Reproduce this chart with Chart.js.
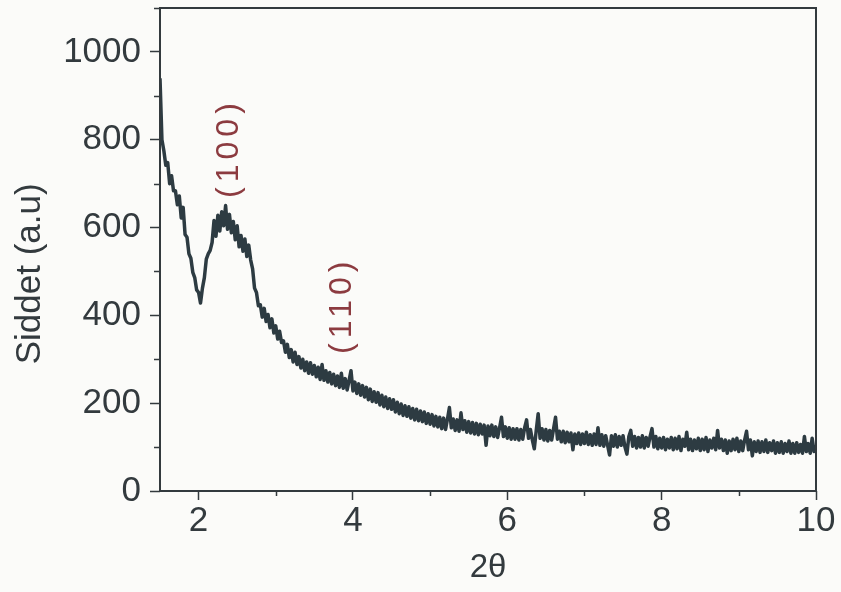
<!DOCTYPE html>
<html>
<head>
<meta charset="utf-8">
<script src="https://cdn.jsdelivr.net/npm/chart.js@4.4.1/dist/chart.umd.min.js"></script>
<style>
    html, body { margin: 0; padding: 0; background: #fbfbf9; }
    #wrap { width: 841px; height: 592px; position: relative; }
</style>
</head>
<body>
<div id="wrap"><canvas id="xrd"></canvas></div>
<script>
// Low-angle XRD scan: 2θ grid (degrees) and measured intensity
const SCAN_START = 1.5;
const SCAN_STEP = 0.025;
const intensity = [
    940, 800, 775, 742, 748, 700, 718, 684,
    684, 652, 672, 622, 646, 584, 578, 540,
    530, 498, 486, 458, 452, 428, 462, 486,
    528, 540, 548, 566, 616, 580, 628, 592,
    636, 604, 650, 596, 630, 588, 614, 572,
    604, 556, 582, 546, 574, 534, 560, 526,
    506, 462, 452, 422, 424, 396, 416, 386,
    402, 372, 392, 360, 376, 346, 364, 338,
    342, 316, 334, 304, 322, 294, 316, 288,
    306, 280, 300, 274, 294, 268, 292, 266,
    286, 260, 282, 254, 288, 252, 274, 248,
    270, 244, 266, 240, 262, 236, 268, 234,
    256, 230, 252, 274, 228, 248, 222, 244,
    218, 240, 214, 236, 208, 232, 204, 226,
    202, 224, 196, 218, 192, 214, 188, 210,
    186, 208, 180, 202, 176, 198, 172, 194,
    170, 192, 166, 188, 162, 186, 160, 182,
    158, 180, 154, 176, 152, 174, 148, 170,
    146, 168, 142, 166, 140, 164, 190, 144,
    164, 138, 162, 136, 178, 140, 160, 134,
    158, 132, 156, 130, 154, 128, 152, 130,
    150, 104, 148, 126, 150, 124, 146, 122,
    144, 168, 124, 146, 120, 144, 118, 142,
    118, 142, 116, 140, 118, 144, 162, 120,
    140, 116, 96, 138, 176, 120, 142, 116,
    140, 114, 138, 116, 142, 168, 118, 136,
    112, 136, 110, 134, 112, 132, 94, 130,
    108, 132, 106, 130, 108, 134, 106, 128,
    104, 130, 106, 144, 104, 128, 102, 126,
    104, 82, 126, 102, 128, 100, 124, 104,
    126, 100, 84, 124, 138, 102, 124, 98,
    122, 100, 126, 98, 122, 102, 124, 142,
    100, 124, 96, 120, 98, 122, 94, 118,
    98, 122, 94, 120, 96, 124, 92, 118,
    102, 134, 94, 118, 92, 116, 96, 120,
    92, 118, 94, 122, 90, 116, 98, 120,
    94, 138, 98, 118, 92, 116, 86, 114,
    92, 118, 94, 120, 90, 114, 92, 116,
    136, 94, 116, 80, 112, 90, 114, 88,
    112, 90, 116, 88, 110, 92, 114, 86,
    110, 88, 112, 86, 108, 90, 114, 86,
    108, 86, 110, 88, 106, 86, 124, 90,
    108, 86, 120, 90, 104
];

// Axis ticks
const X_MAJOR = [2, 4, 6, 8, 10];
const X_MINOR = [3, 5, 7, 9];
const Y_MAJOR = [0, 200, 400, 600, 800, 1000];
const Y_MINOR = [100, 300, 500, 700, 900, 1100];

// Reflection labels, anchored in data coordinates
const PEAK_LABELS = ['(100)', '(110)'];
const PEAK_X = [2.39, 3.86];
const PEAK_Y = [781, 423];

const INK = '#333a3e';
const TRACE = '#2d3b42';
const LABEL_RED = '#8c3b40';
const FONT = "'Liberation Sans', Arial, sans-serif";

const points = intensity.map((v, i) => ({ x: SCAN_START + i * SCAN_STEP, y: v }));

// Frame box, short minor ticks and rotated hkl labels
const decorations = {
    id: 'decorations',
    afterDraw(chart) {
        const { ctx, chartArea: a, scales: { x, y } } = chart;
        ctx.save();
        ctx.strokeStyle = INK;
        ctx.lineWidth = 2;
        ctx.strokeRect(a.left, a.top, a.right - a.left, a.bottom - a.top);

        ctx.lineWidth = 1.5;
        ctx.beginPath();
        X_MINOR.forEach(v => {
            const px = Math.round(x.getPixelForValue(v)) + 0.5;
            ctx.moveTo(px, a.bottom);
            ctx.lineTo(px, a.bottom + 5);
        });
        Y_MINOR.forEach(v => {
            const py = Math.round(y.getPixelForValue(v)) + 0.5;
            ctx.moveTo(a.left, py);
            ctx.lineTo(a.left - 6, py);
        });
        ctx.stroke();

        ctx.fillStyle = LABEL_RED;
        ctx.font = '32px ' + FONT;
        ctx.letterSpacing = '5px';
        ctx.textAlign = 'center';
        ctx.textBaseline = 'middle';
        PEAK_LABELS.forEach((t, i) => {
            ctx.save();
            ctx.translate(x.getPixelForValue(PEAK_X[i]), y.getPixelForValue(PEAK_Y[i]));
            ctx.rotate(-Math.PI / 2);
            ctx.fillText(t, 0, 0);
            ctx.restore();
        });
        ctx.restore();
    }
};

new Chart(document.getElementById('xrd'), {
    type: 'line',
    data: {
        datasets: [{
            data: points,
            borderColor: TRACE,
            borderWidth: 3.5,
            borderJoinStyle: 'round',
            pointRadius: 0,
            tension: 0,
            fill: false
        }]
    },
    options: {
        responsive: true,
        maintainAspectRatio: false,
        animation: false,
        layout: { padding: { top: 8, right: 25, left: 0, bottom: 0 } },
        plugins: { legend: { display: false }, tooltip: { enabled: false } },
        scales: {
            x: {
                type: 'linear',
                min: 1.5,
                max: 10,
                afterFit: s => { s.height = 101; },
                afterBuildTicks: s => { s.ticks = X_MAJOR.map(v => ({ value: v })); },
                border: { display: false },
                grid: { drawOnChartArea: false, tickLength: 9, tickWidth: 1.5, tickColor: INK },
                ticks: {
                    autoSkip: false,
                    maxRotation: 0,
                    padding: 0,
                    color: INK,
                    font: { family: FONT, size: 35 },
                    callback: v => String(v)
                },
                title: {
                    display: true,
                    text: '2θ',
                    color: INK,
                    font: { family: FONT, size: 33 },
                    padding: { top: 0, bottom: 4 }
                }
            },
            y: {
                min: 0,
                max: 1100,
                afterFit: s => { s.width = 160; s.paddingTop = 0; s.paddingBottom = 0; },
                afterBuildTicks: s => { s.ticks = Y_MAJOR.map(v => ({ value: v })); },
                border: { display: false },
                grid: { drawOnChartArea: false, tickLength: 10, tickWidth: 1.5, tickColor: INK },
                ticks: {
                    padding: 9,
                    color: INK,
                    font: { family: FONT, size: 35 },
                    callback: v => String(v)
                },
                title: {
                    display: true,
                    text: 'Siddet (a.u)     ',
                    color: INK,
                    font: { family: FONT, size: 35 },
                    padding: { top: 9, bottom: 0 }
                }
            }
        }
    },
    plugins: [decorations]
});
</script>
</body>
</html>
